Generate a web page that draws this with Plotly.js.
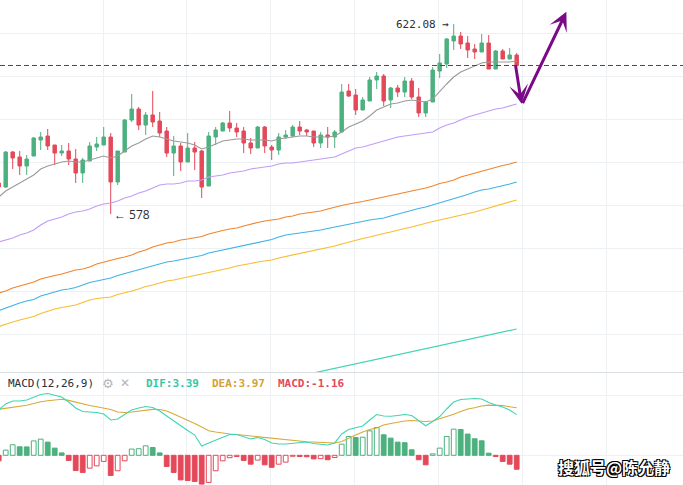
<!DOCTYPE html>
<html>
<head>
<meta charset="utf-8">
<script src="https://cdn.plot.ly/plotly-3.0.1.min.js"></script>
<style>html,body{margin:0;padding:0;background:#fff;}#chart{width:683px;height:485px;}</style>
</head>
<body>
<div id="chart"></div>
<script>
// ---- Candles ----
const openP  = [585.23,584.30,592.41,591.26,589.17,591.49,595.20,596.12,594.04,592.18,
  592.65,590.79,587.55,590.33,593.57,594.04,595.89,585.46,592.41,599.83,
  602.38,598.67,600.99,599.60,597.28,592.18,593.81,590.10,593.34,592.65,
  584.53,595.89,597.28,599.14,597.98,597.28,594.50,593.34,598.21,593.57,
  592.88,595.89,596.12,598.21,597.51,597.28,594.50,596.36,595.89,597.05,
  606.56,605.63,602.15,604.24,609.11,610.03,604.47,607.25,606.32,608.87,
  605.16,601.46,604.00,611.19,612.81,618.15,619.30,617.68,616.29,615.60,
  617.68,611.65,615.83,613.97,614.90];
const highP  = [585.69,592.65,592.65,592.65,591.72,595.89,597.05,597.75,594.04,594.04,
  594.50,593.11,591.02,594.73,595.89,598.21,596.82,592.65,600.07,605.86,
  602.85,601.69,606.56,601.69,598.21,596.12,594.50,596.82,594.73,592.88,
  597.05,598.21,599.37,601.92,599.14,598.21,595.66,598.44,598.44,594.04,
  596.82,597.51,598.67,599.60,597.75,597.28,597.05,598.21,597.51,608.18,
  608.18,607.02,605.16,609.80,610.96,610.49,607.48,607.95,609.80,609.57,
  607.25,604.24,612.12,615.13,618.84,622.08,620.23,619.30,617.45,619.77,
  619.54,616.06,616.29,616.52,615.36];
const lowP   = [583.61,584.07,588.48,587.08,587.08,591.49,592.88,592.88,589.40,591.49,
  589.40,585.23,585.23,590.33,592.65,594.04,578.00,584.77,592.41,599.37,
  597.51,596.36,598.21,595.89,591.26,586.85,588.01,590.10,588.24,581.75,
  584.53,594.04,597.28,597.05,595.89,592.18,591.95,593.34,592.18,590.56,
  591.72,595.43,595.89,596.36,596.12,593.57,593.34,593.34,593.34,597.05,
  605.16,600.99,602.15,604.24,607.02,603.08,602.61,605.16,605.16,604.70,
  600.53,600.53,604.00,609.57,611.89,616.06,616.29,614.20,613.97,615.60,
  611.65,611.65,613.97,613.97,612.12];
const closeP = [584.30,592.41,591.02,589.17,590.79,595.66,595.89,593.81,592.18,592.65,
  590.79,587.55,590.56,593.81,594.27,595.89,585.46,592.65,599.83,602.38,
  598.67,600.99,599.37,596.82,592.18,593.81,590.10,593.34,592.41,584.30,
  596.12,597.51,599.14,597.98,597.05,594.50,593.34,598.21,593.81,592.88,
  595.89,596.36,598.21,597.28,597.05,594.50,596.36,595.89,597.05,606.32,
  605.40,602.15,604.47,609.11,610.03,604.24,607.25,606.32,608.87,605.16,
  601.46,604.00,611.42,613.05,618.61,619.30,617.45,616.06,615.60,617.68,
  611.65,615.83,613.97,614.90,612.47];

// ---- Moving averages ----
const maGray = [581.98,583.37,584.30,585.23,586.16,587.08,588.48,589.17,589.63,590.10,
  590.33,590.10,590.10,590.56,591.02,591.49,591.02,591.49,592.65,593.81,
  594.50,595.43,596.12,595.89,595.43,594.96,594.73,594.50,594.04,593.11,
  593.57,594.27,594.96,595.20,595.43,595.43,595.20,595.20,595.20,594.96,
  595.43,595.66,595.89,596.12,596.12,595.89,595.89,595.89,596.12,597.05,
  598.21,598.91,599.60,600.76,602.15,602.85,603.54,603.77,604.24,604.47,
  604.24,604.00,604.70,606.56,608.18,609.80,610.96,611.65,612.35,613.05,
  613.28,613.28,613.28,613.28,613.51];
const maPurple = [571.55,572.02,572.48,573.18,573.64,574.34,575.49,576.42,576.89,577.35,
  578.04,578.51,578.74,579.20,579.90,580.36,580.59,581.06,581.75,582.22,
  582.91,583.38,584.07,584.77,585.00,585.00,585.23,585.69,585.69,585.92,
  586.62,586.85,587.08,587.55,587.78,588.01,588.48,588.71,588.94,589.17,
  589.63,589.87,589.87,590.10,590.33,590.56,590.79,591.02,591.26,591.95,
  592.65,593.34,593.57,594.04,594.50,594.96,595.43,595.89,596.12,596.36,
  596.59,596.82,597.05,597.98,598.67,599.14,599.83,600.53,600.99,601.46,
  601.92,602.38,602.61,603.08,603.54];
const maOrange = [559.73,560.20,560.89,561.36,561.82,562.28,562.98,563.44,563.79,564.14,
  564.60,565.06,565.30,565.76,566.46,566.92,567.38,567.73,568.08,568.54,
  569.24,569.70,570.40,570.86,571.32,571.55,572.02,572.25,572.48,572.83,
  573.41,573.87,574.22,574.57,574.80,575.26,575.73,576.07,576.42,576.65,
  576.88,577.35,577.58,578.04,578.28,578.51,578.74,579.20,579.67,580.02,
  580.36,580.59,580.94,581.29,581.64,581.98,582.22,582.68,583.03,583.38,
  583.72,584.07,584.54,585.12,585.46,585.93,586.62,587.08,587.43,587.90,
  588.36,588.82,589.29,589.64,590.10];
const maBlue = [555.68,556.26,556.95,557.42,557.88,558.23,559.04,559.50,559.96,560.43,
  560.66,561.01,561.59,562.17,562.51,562.86,563.21,563.79,564.25,564.60,
  565.18,565.64,565.99,566.45,566.92,567.15,567.50,567.85,568.19,568.43,
  569.00,569.35,569.82,570.16,570.51,570.86,571.09,571.55,571.79,572.13,
  572.71,573.18,573.41,573.64,573.87,573.99,574.34,574.68,575.03,575.38,
  575.73,575.96,576.31,576.65,576.88,577.12,577.58,578.04,578.51,578.97,
  579.32,579.67,580.13,580.71,581.17,581.52,581.98,582.57,583.14,583.61,
  583.84,584.19,584.54,585.00,585.46];
const maYellow = [551.97,552.55,553.01,553.47,553.94,554.29,554.98,555.56,556.02,556.37,
  556.72,556.95,557.53,558.11,558.46,558.69,558.81,559.38,559.73,560.20,
  560.66,561.24,561.59,562.05,562.51,562.75,563.09,563.44,563.79,564.14,
  564.37,564.72,565.18,565.53,565.99,566.22,566.57,566.92,567.15,567.38,
  567.85,568.19,568.54,568.89,569.24,569.47,569.93,570.28,570.63,571.09,
  571.55,572.02,572.37,572.71,573.18,573.53,573.87,574.34,574.68,575.03,
  575.49,575.84,576.31,576.65,576.99,577.35,577.69,578.16,578.51,578.97,
  579.43,579.78,580.25,580.83,581.29];
const maTealVisible = [539.45,539.80,540.15,540.50,540.84,541.19,541.50,541.89,542.25,542.58,
  542.90,543.28,543.62,543.95,544.32,544.70,545.01,545.33,545.71,546.08,
  546.40,546.73,547.10,547.47,547.79,548.12,548.49,548.86,549.18,549.50,
  549.88,550.25,550.57,550.90,551.39];

// ---- MACD ----
const difVals = [3.78,4.28,4.53,4.53,4.61,4.82,5.07,5.15,5.03,4.86,
  4.44,3.94,3.65,3.61,3.57,3.44,2.94,3.03,3.44,3.78,
  3.94,4.07,3.98,3.69,3.28,2.86,2.48,2.07,1.69,0.78,
  1.03,1.28,1.53,1.73,1.73,1.57,1.36,1.48,1.32,1.03,
  0.94,0.94,1.00,1.11,1.11,0.98,0.94,0.86,1.03,1.78,
  2.15,2.32,2.44,2.94,3.40,3.28,3.25,3.32,3.40,3.32,
  2.86,2.46,2.82,3.23,3.86,4.44,4.65,4.71,4.73,4.69,
  4.40,4.19,4.03,3.78,3.39];
const deaVals = [3.83,3.90,3.98,4.05,4.17,4.32,4.47,4.55,4.63,4.67,
  4.58,4.44,4.25,4.15,4.05,3.93,3.82,3.61,3.57,3.61,
  3.69,3.79,3.83,3.82,3.69,3.44,3.19,2.94,2.65,2.36,
  2.05,1.94,1.84,1.78,1.73,1.67,1.59,1.55,1.48,1.42,
  1.33,1.28,1.22,1.17,1.13,1.11,1.08,1.05,1.03,1.15,
  1.44,1.69,1.94,2.15,2.28,2.53,2.65,2.78,2.86,2.90,
  2.86,2.82,2.86,3.03,3.23,3.42,3.65,3.86,3.97,4.11,
  4.18,4.19,4.15,4.05,3.97];
const histVals = [-0.46,0.43,0.88,0.71,0.70,1.20,1.35,1.10,0.60,0.20,
  -0.43,-1.27,-1.43,-1.07,-0.88,-0.51,-1.68,-1.29,-0.46,0.52,
  0.55,0.79,0.65,0.20,-0.93,-1.43,-2.05,-2.10,-2.18,-2.40,
  -2.26,-1.29,-0.46,-0.20,-0.10,-0.43,-0.74,-0.40,-0.79,-1.00,
  -0.74,-0.57,-0.08,-0.10,-0.12,-0.30,-0.28,-0.37,-0.18,0.93,
  1.57,1.48,1.51,2.04,2.32,1.71,1.43,1.10,1.05,0.46,
  -0.37,-0.79,0.12,0.60,1.57,2.18,2.15,1.77,1.38,1.21,
  0.18,-0.10,-0.51,-0.74,-1.16];
const macdLabel = 'MACD(12,26,9)';
const watermark = '搜狐号@陈允静';

// ---- build ----
const N = closeP.length;
const idx = Array.from({length: N}, (_, i) => i);
const maTeal = Array(N - maTealVisible.length).fill(null).concat(maTealVisible);

const GREEN = '#4cb07f', RED = '#e4495a';
const GRID = '#eef1f4';

const histFill = [], histLine = [];
histVals.forEach((v, i) => {
  const prev = i > 0 ? histVals[i - 1] : v;
  const c = v >= 0 ? GREEN : RED;
  histLine.push(c);
  histFill.push(v > prev ? '#ffffff' : c);
});

function line(y, color, w, ax) {
  return {type: 'scatter', mode: 'lines', x: idx, y: y, yaxis: ax || 'y',
    line: {color: color, width: w}, hoverinfo: 'skip', connectgaps: false};
}

const traces = [
  line(maTeal, '#3fd5b2', 1.2),
  line(maYellow, '#f6bd2f', 1.2),
  line(maBlue, '#3fb3e6', 1.2),
  line(maOrange, '#f2842c', 1.2),
  line(maPurple, '#c39cf6', 1.2),
  line(maGray, '#9a9a9a', 1.1),
  {type: 'candlestick', x: idx, open: openP, high: highP, low: lowP, close: closeP,
   increasing: {line: {color: GREEN, width: 1}, fillcolor: GREEN},
   decreasing: {line: {color: RED, width: 1}, fillcolor: RED},
   whiskerwidth: 0, hoverinfo: 'skip', yaxis: 'y'},
  {type: 'bar', x: idx, y: histVals, yaxis: 'y2', width: 0.68,
   marker: {color: histFill, line: {color: histLine, width: 1}}, hoverinfo: 'skip'},
  line(deaVals, '#d9a93a', 1.1, 'y2'),
  line(difVals, '#3fd5b2', 1.1, 'y2')
];

// extremes for labels
let hiI = 0, loI = 0;
for (let i = 0; i < N; i++) {
  if (highP[i] > highP[hiI]) hiI = i;
  if (lowP[i] < lowP[loI]) loI = i;
}
const fmt = v => Number.isInteger(v) ? String(v) : v.toFixed(2);

const mainDomain = [113 / 485, 1];
const subDomain = [0, 112 / 485];
const legY = 1 - 383 / 485;
const monoFont = 'DejaVu Sans Mono, monospace';
const last = N - 1;

const annotations = [
  {x: hiI, y: highP[hiI], xref: 'x', yref: 'y', text: fmt(highP[hiI]) + ' →', showarrow: false,
   xanchor: 'right', yanchor: 'middle', xshift: -3, font: {family: monoFont, size: 11, color: '#2a2e39'}},
  {x: loI, y: lowP[loI], xref: 'x', yref: 'y', text: '← ' + fmt(lowP[loI]), showarrow: false,
   xanchor: 'left', yanchor: 'middle', xshift: 1, font: {family: 'Open Sans, sans-serif', size: 12, color: '#2a2e39'}},
  {x: 6 / 683, y: legY, xref: 'paper', yref: 'paper', text: macdLabel, showarrow: false,
   xanchor: 'left', yanchor: 'middle', font: {family: monoFont, size: 11, color: '#2a2e39'}},
  {x: 108 / 683, y: legY, xref: 'paper', yref: 'paper', text: '⚙', showarrow: false,
   xanchor: 'center', yanchor: 'middle', font: {family: 'DejaVu Sans', size: 13, color: '#b2b5be'}},
  {x: 125 / 683, y: legY, xref: 'paper', yref: 'paper', text: '✕', showarrow: false,
   xanchor: 'center', yanchor: 'middle', font: {family: 'DejaVu Sans', size: 12, color: '#b2b5be'}},
  {x: 144 / 683, y: legY, xref: 'paper', yref: 'paper', text: 'DIF:' + difVals[last].toFixed(2), showarrow: false,
   xanchor: 'left', yanchor: 'middle', font: {family: monoFont, size: 11, color: '#33c9a6', weight: 700}},
  {x: 210 / 683, y: legY, xref: 'paper', yref: 'paper', text: 'DEA:' + deaVals[last].toFixed(2), showarrow: false,
   xanchor: 'left', yanchor: 'middle', font: {family: monoFont, size: 11, color: '#d4a236', weight: 700}},
  {x: 276 / 683, y: legY, xref: 'paper', yref: 'paper', text: 'MACD:' + histVals[last].toFixed(2), showarrow: false,
   xanchor: 'left', yanchor: 'middle', font: {family: monoFont, size: 11, color: '#e4495a', weight: 700}},
  {x: 614 / 683, y: 1 - 467 / 485, xref: 'paper', yref: 'paper', text: watermark, showarrow: false,
   xanchor: 'center', yanchor: 'middle',
   font: {family: 'Noto Sans CJK SC', size: 16, color: '#ffffff', weight: 700,
          shadow: '1px 1px 0 #000, -1px -1px 0 #000, 1px -1px 0 #000, -1px 1px 0 #000'}},
  // hand-drawn purple arrows
  {x: last + 0.7, y: 603.6, xref: 'x', yref: 'y', ax: last - 0.2, ay: 612.9, axref: 'x', ayref: 'y',
   showarrow: true, arrowhead: 3, arrowsize: 1.05, arrowwidth: 3, arrowcolor: '#7a0a86', text: ''},
  {x: last + 7.1, y: 624.9, xref: 'x', yref: 'y', ax: last + 0.75, ay: 603.4, axref: 'x', ayref: 'y',
   showarrow: true, arrowhead: 3, arrowsize: 1.05, arrowwidth: 3, arrowcolor: '#7a0a86', text: ''}
];

const shapes = [
  {type: 'line', xref: 'paper', yref: 'paper', x0: 0, x1: 1, y0: subDomain[1] + 0.001, y1: subDomain[1] + 0.001,
   line: {color: '#dadde2', width: 1}},
  {type: 'line', xref: 'paper', yref: 'y', x0: 0, x1: 1, y0: closeP[last], y1: closeP[last],
   line: {color: '#9a2b38', width: 1, dash: '5px,3px'}}
];

const layout = {
  width: 683, height: 485,
  margin: {l: 0, r: 0, t: 0, b: 0, pad: 0},
  paper_bgcolor: '#ffffff', plot_bgcolor: '#ffffff',
  showlegend: false,
  xaxis: {range: [0.186, 97.76], showticklabels: false, ticks: '', zeroline: false, showline: false,
    showgrid: true, gridcolor: GRID, tickvals: [14.9, 26.9, 38.9, 50.85, 62.85, 74.85, 86.85],
    rangeslider: {visible: false}, anchor: 'y2', fixedrange: true},
  yaxis: {domain: mainDomain, range: [541.42, 627.65], tick0: 0, dtick: 10, showticklabels: false,
    ticks: '', zeroline: false, showline: false, gridcolor: GRID, fixedrange: true},
  yaxis2: {domain: subDomain, range: [-2.475, 6.86], tick0: 0, dtick: 5, showticklabels: false,
    ticks: '', zeroline: false, showline: false, gridcolor: GRID, fixedrange: true},
  annotations: annotations,
  shapes: shapes,
  bargap: 0.3
};

Plotly.newPlot('chart', traces, layout, {displayModeBar: false, staticPlot: true});
</script>
</body>
</html>
